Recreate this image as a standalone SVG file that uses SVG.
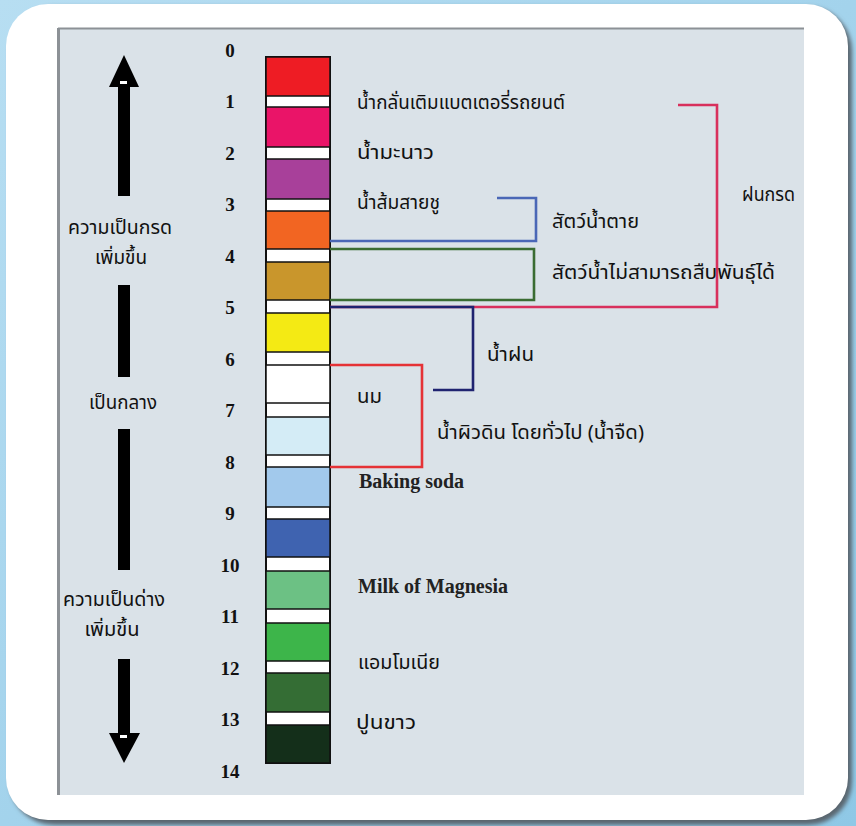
<svg xmlns="http://www.w3.org/2000/svg" width="856" height="826" viewBox="0 0 856 826">
  <defs>
    <linearGradient id="bgGrad" x1="0" y1="0" x2="1" y2="1">
      <stop offset="0" stop-color="#b7def2"/>
      <stop offset="1" stop-color="#8fc8e6"/>
    </linearGradient>
    <filter id="soft" x="-5%" y="-5%" width="110%" height="110%">
      <feGaussianBlur stdDeviation="2"/>
    </filter>
  </defs>
  <style>
    .tick { font-family: "Liberation Serif", "Times New Roman", serif; font-weight: bold; font-size: 19px; fill: #111; text-anchor: middle; }
    .th { font-family: "Noto Sans Thai", "Tahoma", "DejaVu Sans", "Noto Sans", sans-serif; font-size: 19px; fill: #111; }
    .thc { font-family: "Noto Sans Thai", "Tahoma", "DejaVu Sans", "Noto Sans", sans-serif; font-size: 19px; fill: #111; text-anchor: middle; }
    .en { font-family: "Liberation Serif", "Times New Roman", serif; font-weight: bold; font-size: 20px; fill: #222; }
    .blk { stroke: #111; stroke-width: 1.5; }
    .link { fill: none; stroke-width: 2.6; stroke-linejoin: miter; }
  </style>

  <!-- page frame -->
  <rect x="0" y="0" width="856" height="826" fill="url(#bgGrad)"/>
  <rect x="10" y="7" width="842" height="818" rx="44" fill="#5a6670" filter="url(#soft)"/>
  <rect x="6" y="4" width="842" height="816" rx="42" fill="#ffffff"/>

  <!-- grey panel -->
  <rect x="58" y="28" width="746" height="767" fill="#dae2e8"/>
  <line x1="58" y1="28.5" x2="804" y2="28.5" stroke="#8c9196" stroke-width="2"/>
  <line x1="58.5" y1="28" x2="58.5" y2="795" stroke="#8c9196" stroke-width="3"/>

  <!-- direction arrows -->
  <g id="arrow-acid">
    <polygon points="124,55 139,87 130,87 130,196 118,196 118,87 109,87" fill="#000"/>
    <rect x="120" y="81" width="7" height="3" fill="#fff"/>
    <text class="thc" x="120" y="234" textLength="104" lengthAdjust="spacingAndGlyphs">ความเป็นกรด</text>
    <text class="thc" x="121" y="264" textLength="52" lengthAdjust="spacingAndGlyphs">เพิ่มขึ้น</text>
  </g>
  <g id="arrow-neutral">
    <rect x="118" y="285" width="12" height="92" fill="#000"/>
    <text class="thc" x="123" y="409" textLength="68" lengthAdjust="spacingAndGlyphs">เป็นกลาง</text>
    <rect x="118" y="429" width="12" height="141" fill="#000"/>
  </g>
  <g id="arrow-base">
    <text class="thc" x="114" y="606" textLength="102" lengthAdjust="spacingAndGlyphs">ความเป็นด่าง</text>
    <text class="thc" x="112" y="636" textLength="55" lengthAdjust="spacingAndGlyphs">เพิ่มขึ้น</text>
    <polygon points="118,659 130,659 130,733 140,733 124,763 109,733 118,733" fill="#000"/>
    <rect x="120" y="735" width="7" height="3" fill="#fff"/>
  </g>

  <!-- pH colour bar -->
  <g id="ph-bar">
    <rect x="266" y="57" width="64" height="706" fill="#ffffff" stroke="#111" stroke-width="2"/>
    <rect class="blk" x="266" y="57"  width="64" height="39" fill="#ee1c24"/>
    <rect class="blk" x="266" y="107" width="64" height="40" fill="#ea1468"/>
    <rect class="blk" x="266" y="159" width="64" height="40" fill="#a8409a"/>
    <rect class="blk" x="266" y="211" width="64" height="38" fill="#f26522"/>
    <rect class="blk" x="266" y="262" width="64" height="38" fill="#c9962c"/>
    <rect class="blk" x="266" y="313" width="64" height="39" fill="#f4ea14"/>
    <rect class="blk" x="266" y="365" width="64" height="38" fill="#ffffff"/>
    <rect class="blk" x="266" y="417" width="64" height="38" fill="#d4ecf6"/>
    <rect class="blk" x="266" y="467" width="64" height="40" fill="#a2c9ec"/>
    <rect class="blk" x="266" y="519" width="64" height="38" fill="#3f63b0"/>
    <rect class="blk" x="266" y="571" width="64" height="38" fill="#6cc184"/>
    <rect class="blk" x="266" y="623" width="64" height="38" fill="#3db54a"/>
    <rect class="blk" x="266" y="673" width="64" height="39" fill="#346d34"/>
    <rect class="blk" x="266" y="725" width="64" height="38" fill="#142f1a"/>
  </g>

  <!-- pH scale numbers -->
  <g id="ph-scale">
    <text class="tick" x="230" y="57">0</text>
    <text class="tick" x="230" y="108">1</text>
    <text class="tick" x="230" y="160">2</text>
    <text class="tick" x="230" y="211">3</text>
    <text class="tick" x="230" y="263">4</text>
    <text class="tick" x="230" y="314">5</text>
    <text class="tick" x="230" y="366">6</text>
    <text class="tick" x="230" y="417">7</text>
    <text class="tick" x="230" y="469">8</text>
    <text class="tick" x="230" y="520">9</text>
    <text class="tick" x="230" y="572">10</text>
    <text class="tick" x="230" y="623">11</text>
    <text class="tick" x="230" y="675">12</text>
    <text class="tick" x="230" y="726">13</text>
    <text class="tick" x="230" y="778">14</text>
  </g>

  <!-- range brackets -->
  <g id="connectors">
    <polyline class="link" stroke="#d8305c" points="678,105 717,105 717,307 330,307"/>
    <polyline class="link" stroke="#4a67b6" points="497,198 536,198 536,241 330,241"/>
    <polyline class="link" stroke="#3a6c32" points="330,249 534,249 534,300 330,300"/>
    <polyline class="link" stroke="#1f2370" points="330,307 473,307 473,390 433,390"/>
    <polyline class="link" stroke="#e53236" points="330,365 422,365 422,467 330,467"/>
  </g>

  <!-- substance labels -->
  <g id="label-battery"><text class="th" x="357" y="109" textLength="208" lengthAdjust="spacingAndGlyphs">น้ำกลั่นเติมแบตเตอรี่รถยนต์</text></g>
  <g id="label-lime"><text class="th" x="357" y="159" textLength="77" lengthAdjust="spacingAndGlyphs">น้ำมะนาว</text></g>
  <g id="label-vinegar"><text class="th" x="357" y="209" textLength="83" lengthAdjust="spacingAndGlyphs">น้ำส้มสายชู</text></g>
  <g id="label-dead"><text class="th" x="552" y="228" textLength="87" lengthAdjust="spacingAndGlyphs">สัตว์น้ำตาย</text></g>
  <g id="label-nobreed"><text class="th" x="552" y="279" textLength="223" lengthAdjust="spacingAndGlyphs">สัตว์น้ำไม่สามารถสืบพันธุ์ได้</text></g>
  <g id="label-acidrain"><text class="th" x="742" y="201" textLength="53" lengthAdjust="spacingAndGlyphs">ฝนกรด</text></g>
  <g id="label-rain"><text class="th" x="487" y="361" textLength="47" lengthAdjust="spacingAndGlyphs">น้ำฝน</text></g>
  <g id="label-milk"><text class="th" x="357" y="403" textLength="25" lengthAdjust="spacingAndGlyphs">นม</text></g>
  <g id="label-freshwater"><text class="th" x="437" y="439" textLength="207" lengthAdjust="spacingAndGlyphs">น้ำผิวดิน โดยทั่วไป (น้ำจืด)</text></g>
  <g id="label-baking"><text class="en" x="359" y="488">Baking soda</text></g>
  <g id="label-magnesia"><text class="en" x="358" y="593">Milk of Magnesia</text></g>
  <g id="label-ammonia"><text class="th" x="358" y="669" textLength="82" lengthAdjust="spacingAndGlyphs">แอมโมเนีย</text></g>
  <g id="label-lime-white"><text class="th" x="356" y="729" textLength="60" lengthAdjust="spacingAndGlyphs">ปูนขาว</text></g>
</svg>
